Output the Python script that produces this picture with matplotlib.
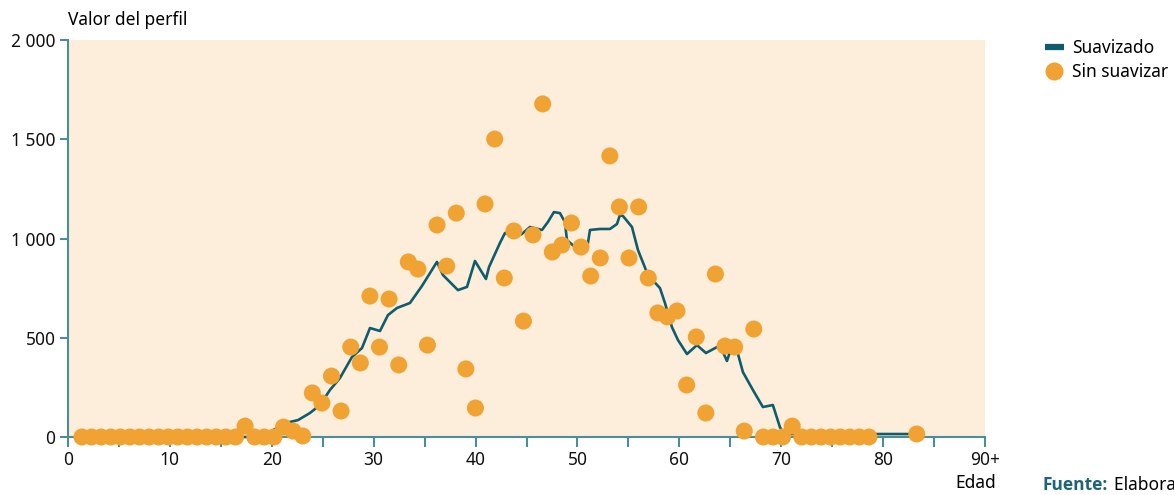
import numpy as np
import matplotlib
matplotlib.use("Agg")
import matplotlib.pyplot as plt
from matplotlib.lines import Line2D

plt.rcParams['font.family'] = ['Noto Sans', 'DejaVu Sans']

# datos sin suavizar (una edad cada ~0.94 años)
edades = np.round(1.37 + 0.942 * np.arange(83), 2).tolist() + [83.3]
sin_suavizar = [0] * 17 + [55, 0, 0, 0, 50, 30, 5,
                222, 171, 307, 131, 453, 373, 710, 453, 695, 363,
                882, 846, 463, 1068, 861, 1128, 343, 146, 1174, 1501,
                801, 1038, 584, 1018, 1678, 932, 967, 1078, 957, 811,
                902, 1416, 1159, 902, 1159, 801, 625, 605, 635, 262,
                504, 121, 821, 458, 453, 30, 544, 0, 0, 0, 55] + [0] * 8 + [15]

# serie suavizada
edades_suav = [1.4, 18.35, 19.82, 21.30, 22.57, 23.75, 24.73, 25.71, 26.69, 27.87,
               28.85, 29.64, 30.62, 31.40, 32.29, 33.56, 34.74, 36.21, 36.80, 38.27,
               39.16, 39.94, 41.02, 41.32, 42.39, 42.89, 43.87, 44.55, 45.34, 46.52,
               47.10, 47.69, 48.28, 48.77, 48.97, 49.75, 50.54, 51.03, 51.23, 52.21,
               53.19, 53.88, 54.17, 54.47, 55.35, 55.94, 56.92, 58.10, 58.59, 59.27,
               59.86, 60.75, 61.73, 62.61, 63.69, 64.28, 64.67, 64.97, 65.65, 66.24,
               67.22, 68.20, 69.18, 69.87, 70.26, 83.6]
suavizado = [0, 0, 25, 70, 85, 121, 161, 237, 297, 403,
             448, 549, 534, 614, 650, 675, 761, 882, 816, 740,
             756, 887, 796, 856, 977, 1028, 1008, 1023, 1058, 1043,
             1083, 1133, 1128, 1083, 992, 957, 952, 977, 1043, 1048,
             1048, 1073, 1118, 1113, 1058, 942, 816, 750, 675, 554,
             489, 418, 463, 423, 453, 428, 383, 428, 438, 327,
             237, 151, 161, 50, 15, 15]

xticks = [0, 10, 20, 30, 40, 50, 60, 70, 80, 90]
xlabels = ['0', '10', '20', '30', '40', '50', '60', '70', '80', '90+']
yticks = [0, 500, 1000, 1500, 2000]
ylabels = ['0', '500', '1 000', '1 500', '2 000']

c_linea = '#0f5c6c'
c_punto = '#f0a232'
c_eje = '#4d8c99'
c_fondo = '#fdeedc'

fig = plt.figure(figsize=(11.74, 4.95), dpi=100)
ax = fig.add_axes([68 / 1174, 58 / 495, 917 / 1174, 397 / 495])
ax.set_facecolor(c_fondo)

ax.plot(edades_suav, suavizado, color=c_linea, lw=1.9, zorder=3, clip_on=False)
ax.scatter(edades, sin_suavizar, s=150, color=c_punto, edgecolors='none',
           zorder=4, clip_on=False)

ax.set_xlim(0, 90)
ax.set_ylim(0, 2000)
ax.set_xticks(xticks)
ax.set_xticklabels(xlabels)
ax.set_xticks(np.arange(5, 90, 10), minor=True)
ax.set_yticks(yticks)
ax.set_yticklabels(ylabels)

for s in ['top', 'right']:
    ax.spines[s].set_visible(False)
for s in ['left', 'bottom']:
    ax.spines[s].set_color(c_eje)
    ax.spines[s].set_linewidth(1.5)
ax.tick_params(which='both', color=c_eje, width=1.5, labelsize=12.5, labelcolor='#111111')
ax.tick_params(axis='x', which='both', length=7, pad=3)
ax.tick_params(axis='y', length=6, pad=3)

fig.text(68 / 1174, 1 - 20 / 495, 'Valor del perfil', fontsize=12.5, ha='left', va='center')
fig.text(976 / 1174, 1 - 483 / 495, 'Edad', fontsize=12.5, ha='center', va='center')
fig.text(1043 / 1174, 1 - 485 / 495, 'Fuente:', fontsize=12.5, ha='left', va='center',
         color='#1d6478', fontweight='bold', family=['Open Sans', 'DejaVu Sans'])
# el texto de la fuente queda cortado por el borde, como en el original
fig.text(1114 / 1174, 1 - 485 / 495, 'Elaboración propia.', fontsize=12.5, ha='left', va='center')

handles = [Line2D([], [], color=c_linea, lw=4.5, solid_capstyle='butt'),
           Line2D([], [], marker='o', ls='none', color=c_punto, markersize=12)]
fig.legend(handles, ['Suavizado', 'Sin suavizar'], loc='upper left',
           bbox_to_anchor=(1036 / 1174, 1 - 30 / 495), frameon=False, fontsize=12.5,
           handlelength=1.1, handletextpad=0.5, labelspacing=0.35, borderpad=0)

fig.savefig('out.png', dpi=100)
